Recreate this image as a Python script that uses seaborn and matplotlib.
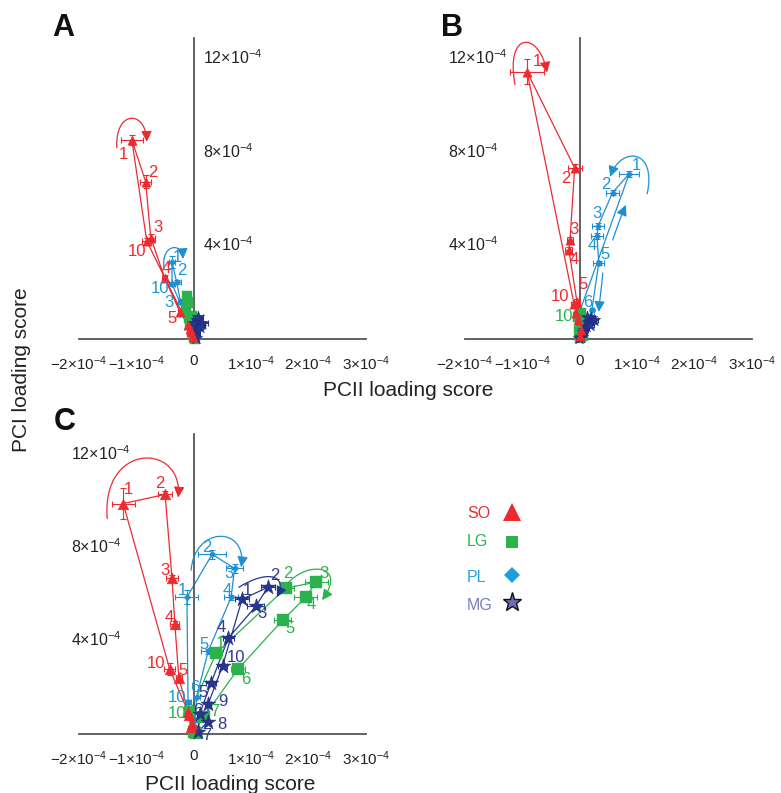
import matplotlib
matplotlib.use("Agg")
import matplotlib.pyplot as plt
import seaborn as sns
from matplotlib.path import Path
from matplotlib.patches import FancyArrowPatch

sns.set_theme(style="white")
plt.rcParams["font.family"] = ["Liberation Sans", "DejaVu Sans"]
plt.rcParams["mathtext.fontset"] = "custom"
plt.rcParams["mathtext.rm"] = "Liberation Sans"
plt.rcParams["mathtext.it"] = "Liberation Sans:italic"
plt.rcParams["mathtext.bf"] = "Liberation Sans:bold"

# Loading scores in units of 1e-4; each series holds time points 1..10
time_points = list(range(1, 11))
groups = ["SO", "LG", "PL", "MG"]

# ---- panel A ----
A_SO_x = [-1.08, -0.84, -0.75, -0.51, -0.24, -0.10, -0.05, -0.02, -0.07, -0.82]
A_SO_y = [8.54, 6.75, 4.35, 2.63, 1.15, 0.60, 0.30, 0.10, 0.45, 4.20]
A_SO_xerr = [0.19, 0.10, 0.08, 0.05, 0.04, 0.03, 0.03, 0.03, 0.03, 0.08]
A_SO_yerr = [0.22, 0.27, 0.15, 0.12, 0.08, 0.05, 0.05, 0.05, 0.05, 0.12]

A_LG_x = [-0.12, -0.10, -0.13, -0.09, -0.07, -0.04, 0.00, 0.02, -0.03, -0.10]
A_LG_y = [1.85, 1.55, 1.20, 0.90, 0.60, 0.35, 0.10, 0.02, 1.00, 1.60]
A_LG_xerr = [0.04] * 10
A_LG_yerr = [0.08] * 10

A_PL_x = [-0.38, -0.30, -0.23, -0.15, -0.08, -0.04, 0.00, 0.01, -0.02, -0.38]
A_PL_y = [3.30, 2.45, 1.60, 1.15, 0.75, 0.45, 0.20, 0.10, 0.30, 2.36]
A_PL_xerr = [0.06, 0.08, 0.05, 0.04, 0.03, 0.03, 0.03, 0.03, 0.03, 0.06]
A_PL_yerr = [0.25, 0.10, 0.10, 0.08, 0.05, 0.05, 0.05, 0.05, 0.05, 0.10]

A_MG_x = [0.05, 0.12, 0.08, 0.02, 0.15, 0.06, 0.00, 0.03, 0.10, -0.02]
A_MG_y = [0.80, 0.65, 0.95, 0.55, 0.70, 0.35, 0.15, 0.05, 0.50, 0.70]
A_MG_xerr = [0.10, 0.08, 0.08, 0.06, 0.10, 0.05, 0.05, 0.05, 0.05, 0.06]
A_MG_yerr = [0.08] * 10

# ---- panel B ----
B_SO_x = [-0.92, -0.09, -0.17, -0.19, -0.05, -0.03, 0.02, 0.00, -0.06, -0.10]
B_SO_y = [11.46, 7.33, 4.25, 3.82, 1.60, 0.80, 0.40, 0.15, 1.10, 1.50]
B_SO_xerr = [0.29, 0.12, 0.06, 0.06, 0.05, 0.04, 0.03, 0.03, 0.04, 0.06]
B_SO_yerr = [0.55, 0.15, 0.12, 0.12, 0.10, 0.05, 0.05, 0.05, 0.05, 0.10]

B_LG_x = [0.02, 0.04, 0.00, 0.03, 0.05, 0.01, -0.02, 0.00, 0.02, -0.03]
B_LG_y = [0.70, 0.40, 0.25, 0.55, 0.15, 0.05, 0.35, 0.80, 1.10, 0.95]
B_LG_xerr = [0.03] * 10
B_LG_yerr = [0.06] * 10

B_PL_x = [0.86, 0.57, 0.32, 0.30, 0.33, 0.21, 0.08, 0.00, -0.03, 0.00]
B_PL_y = [7.08, 6.27, 4.85, 4.42, 3.26, 1.24, 0.50, 0.10, 0.50, 1.20]
B_PL_xerr = [0.17, 0.12, 0.11, 0.10, 0.10, 0.04, 0.03, 0.03, 0.03, 0.03]
B_PL_yerr = [0.12, 0.10, 0.12, 0.12, 0.10, 0.05, 0.05, 0.05, 0.05, 0.05]

B_MG_x = [0.15, 0.20, 0.10, 0.12, 0.25, 0.08, 0.02, -0.02, 0.05, 0.18]
B_MG_y = [0.75, 0.90, 0.55, 0.95, 0.80, 0.40, 0.10, 0.05, 0.30, 0.60]
B_MG_xerr = [0.06] * 10
B_MG_yerr = [0.08] * 10

# ---- panel C ----
C_SO_x = [-1.23, -0.50, -0.38, -0.33, -0.26, -0.08, -0.03, -0.05, -0.10, -0.42]
C_SO_y = [9.91, 10.30, 6.70, 4.72, 2.40, 0.80, 0.45, 0.30, 0.95, 2.79]
C_SO_xerr = [0.20, 0.12, 0.10, 0.08, 0.05, 0.03, 0.03, 0.03, 0.03, 0.10]
C_SO_yerr = [0.65, 0.15, 0.15, 0.15, 0.12, 0.05, 0.05, 0.05, 0.05, 0.25]

C_LG_x = [0.39, 1.60, 2.13, 1.95, 1.55, 0.77, 0.17, 0.00, 0.03, -0.07]
C_LG_y = [3.47, 6.27, 6.53, 5.88, 4.90, 2.79, 0.73, 0.10, 0.05, 0.94]
C_LG_xerr = [0.10, 0.15, 0.20, 0.20, 0.15, 0.12, 0.05, 0.03, 0.03, 0.05]
C_LG_yerr = [0.10, 0.10, 0.10, 0.12, 0.10, 0.10, 0.05, 0.05, 0.05, 0.05]

C_PL_x = [-0.12, 0.32, 0.71, 0.65, 0.25, 0.05, 0.02, 0.00, -0.03, -0.10]
C_PL_y = [5.88, 7.73, 7.12, 5.88, 3.56, 1.60, 0.60, 0.30, 0.90, 1.37]
C_PL_xerr = [0.20, 0.24, 0.15, 0.12, 0.12, 0.05, 0.03, 0.03, 0.03, 0.05]
C_PL_yerr = [0.30, 0.20, 0.20, 0.10, 0.10, 0.05, 0.05, 0.05, 0.05, 0.08]

C_MG_x = [0.84, 1.29, 1.08, 0.60, 0.30, 0.10, 0.08, 0.24, 0.25, 0.50]
C_MG_y = [5.79, 6.31, 5.49, 4.12, 2.19, 0.85, 0.10, 0.52, 1.29, 2.92]
C_MG_xerr = [0.12, 0.12, 0.15, 0.10, 0.08, 0.05, 0.05, 0.05, 0.05, 0.08]
C_MG_yerr = [0.10, 0.10, 0.10, 0.10, 0.08, 0.05, 0.05, 0.05, 0.05, 0.08]

# Axis tick values (units of 1e-4)
x_tick_values = [-2, -1, 0, 1, 2, 3]
y_tick_values = [2, 4, 6, 8, 10, 12]
y_labelled_values = [4, 8, 12]

panels = {
    "A": {g: (globals()[f"A_{g}_x"], globals()[f"A_{g}_y"],
              globals()[f"A_{g}_xerr"], globals()[f"A_{g}_yerr"]) for g in groups},
    "B": {g: (globals()[f"B_{g}_x"], globals()[f"B_{g}_y"],
              globals()[f"B_{g}_xerr"], globals()[f"B_{g}_yerr"]) for g in groups},
    "C": {g: (globals()[f"C_{g}_x"], globals()[f"C_{g}_y"],
              globals()[f"C_{g}_xerr"], globals()[f"C_{g}_yerr"]) for g in groups},
}

# ---- styling / layout ----
COLORS = {"SO": "#ed2a30", "LG": "#2bb24c", "PL": "#1d8fd2", "MG": "#27358f"}
LABEL_COLORS = {"SO": "#ed2a30", "LG": "#2bb24c", "PL": "#2196d6", "MG": "#2e3b92"}
MARKERS = {"SO": "^", "LG": "s", "PL": "D", "MG": "*"}
SIZES = {"A": {"SO": 45, "LG": 50, "PL": 12, "MG": 90},
         "B": {"SO": 45, "LG": 55, "PL": 12, "MG": 90},
         "C": {"SO": 60, "LG": 80, "PL": 12, "MG": 130}}
DRAW_ORDER = ["PL", "LG", "MG", "SO"]

W, H = 781, 793
AX_PIX = {"A": (79, 366, 339, 38), "B": (465, 752, 339, 38), "C": (79, 366, 734, 434)}
Y_TOP = 12.9

# number-label offsets in pixels (right, down) from each point
LABEL_OFFSETS = {
    ("A", "SO"): {1: (-8, 15), 2: (7, -9), 3: (7, -10), 4: (2, -9), 5: (-8, 6), 10: (-10, 11)},
    ("A", "PL"): {1: (5, -5), 2: (5, -11), 3: (-12, 1), 10: (-12, 5)},
    ("B", "SO"): {1: (10, -10), 2: (-9, 11), 3: (4, -10), 4: (5, 10), 5: (6, -17), 10: (-14, -8)},
    ("B", "PL"): {1: (7, -8), 2: (-7, -8), 3: (-1, -12), 4: (-5, 10), 5: (6, -8), 6: (-4, -8)},
    ("B", "LG"): {10: (-14, 0)},
    ("C", "SO"): {1: (5, -14), 2: (-5, -11), 3: (-7, -8), 4: (-6, -7), 5: (4, -8), 10: (-14, -6)},
    ("C", "PL"): {1: (-5, -7), 2: (-5, -7), 3: (-6, 5), 4: (-4, -7), 5: (-4, -7), 6: (-2, -9), 10: (-11, -5)},
    ("C", "LG"): {1: (4, -10), 2: (2, -15), 3: (8, -9), 4: (6, 7), 5: (7, 8), 6: (8, 10), 7: (11, -6), 10: (-13, 1)},
    ("C", "MG"): {1: (5, -9), 2: (7, -12), 3: (6, 7), 4: (-7, -11), 5: (-8, 9), 6: (-2, -4),
                  7: (8, 4), 8: (14, 3), 9: (15, -2), 10: (13, -9)},
}

# direction arrows: (panel, group, anchor time point, bezier control offsets in pixels)
ARROWS = [
    ("A", "SO", 1, [(-15, 8), (-17, -30), (14, -30), (15, 2)]),
    ("A", "PL", 1, [(-8, 6), (-11, -18), (10, -20), (11, -3)]),
    ("B", "SO", 1, [(-12, 13), (-22, -41), (12, -41), (20, 1)]),
    ("B", "PL", 1, [(18, 20), (28, -25), (-8, -28), (-19, 3)]),
    ("B", "PL", 5, [(14, -23), (18, -35), (22, -46), (27, -58)]),
    ("B", "PL", 5, [(4, 10), (3, 23), (1, 36), (0, 49)]),
    ("C", "SO", 1, [(-16, 15), (-22, -62), (60, -61), (55, -6)]),
    ("C", "PL", 2, [(-21, 16), (-18, -28), (35, -29), (29, 13)]),
    ("C", "LG", 3, [(-30, 3), (-10, -22), (32, -18), (6, 18)]),
    ("C", "MG", 2, [(-29, 0), (0, -18), (20, -12), (9, 10)]),
]

AXIS_GRAY = "#555555"
TICK_FS = 11


def sci(v):
    if v == 0:
        return "0"
    s = "\u2212" if v < 0 else ""
    return f"{s}{abs(v)}\u00d710$^{{\u22124}}$"


fig = plt.figure(figsize=(W / 100, H / 100), dpi=100)
axes = {}
for key, (xl, xr, yb, yt) in AX_PIX.items():
    ax = fig.add_axes([xl / W, 1 - yb / H, (xr - xl) / W, (yb - yt) / H])
    ax.set_xlim(-2, 3)
    ax.set_ylim(0, Y_TOP)
    ax.patch.set_alpha(0)
    for side in ("top", "right"):
        ax.spines[side].set_visible(False)
    ax.spines["left"].set_position(("data", 0))
    for side in ("left", "bottom"):
        ax.spines[side].set_color(AXIS_GRAY)
        ax.spines[side].set_linewidth(1.3)
    ax.set_xticks(x_tick_values)
    ax.set_xticklabels([sci(v) for v in x_tick_values])
    ax.set_yticks(y_tick_values)
    ax.set_yticklabels([])
    ax.tick_params(axis="both", direction="out", length=7, width=1.3,
                   color=AXIS_GRAY, labelsize=TICK_FS, labelcolor="#222222", pad=4)
    ax.xaxis.get_major_ticks()[2].tick1line.set_visible(False)
    ax.set_xlabel("")
    ax.set_ylabel("")
    axes[key] = ax

# y tick labels beside the vertical axis
YLAB_X = {"A": (203, "left"), "B": (448, "left"), "C": (71, "left")}
for key, ax in axes.items():
    xl, xr, yb, yt = AX_PIX[key]
    px, ha = YLAB_X[key]
    for v in y_labelled_values:
        py = yb - (yb - yt) * v / Y_TOP
        fig.text(px / W, 1 - (py - 1) / H, sci(v), ha=ha, va="center",
                 fontsize=TICK_FS + 0.5, color="#222222")


def px_to_data(ax, anchor, off):
    disp = ax.transData.transform(anchor)
    return ax.transData.inverted().transform((disp[0] + off[0], disp[1] - off[1]))


for key, ax in axes.items():
    for g in DRAW_ORDER:
        xs, ys, xe, ye = panels[key][g]
        loop_x = list(xs) + [xs[0]]
        loop_y = list(ys) + [ys[0]]
        sns.lineplot(x=loop_x, y=loop_y, sort=False, estimator=None, color=COLORS[g],
                     lw=0.9, ax=ax, legend=False, zorder=2)
        ax.errorbar(xs, ys, xerr=xe, yerr=ye, fmt="none", ecolor=COLORS[g],
                    elinewidth=0.8, capsize=2, capthick=0.8, zorder=3, clip_on=False)
        sns.scatterplot(x=xs, y=ys, marker=MARKERS[g], s=SIZES[key][g], color=COLORS[g],
                        edgecolor=COLORS[g] if g != "MG" else "#1b2570", linewidth=0.3,
                        ax=ax, legend=False, zorder=4, clip_on=False)
        for t, (dx, dy) in LABEL_OFFSETS.get((key, g), {}).items():
            i = time_points.index(t)
            ax.annotate(str(t), xy=(xs[i], ys[i]), xytext=(dx, -dy),
                        textcoords="offset pixels", ha="center", va="center",
                        fontsize=12, color=LABEL_COLORS[g], zorder=5)

for key, g, t, offs in ARROWS:
    ax = axes[key]
    xs, ys, _, _ = panels[key][g]
    i = time_points.index(t)
    verts = [px_to_data(ax, (xs[i], ys[i]), o) for o in offs]
    path = Path(verts, [Path.MOVETO, Path.CURVE4, Path.CURVE4, Path.CURVE4])
    arr = FancyArrowPatch(path=path, arrowstyle="-|>,head_length=0.7,head_width=0.35",
                          mutation_scale=9, color=COLORS[g], lw=0.9, zorder=5,
                          clip_on=False)
    ax.add_patch(arr)

# panel letters and axis titles
for letter, (px, py) in {"A": (63, 28), "B": (452, 28), "C": (65, 422)}.items():
    fig.text(px / W, 1 - py / H, letter, fontsize=22, fontweight="bold",
             ha="center", va="center", color="#111111")
fig.text(408 / W, 1 - 390 / H, "PCII loading score", fontsize=15, ha="center",
         va="center", color="#222222")
fig.text(230 / W, 1 - 784 / H, "PCII loading score", fontsize=15, ha="center",
         va="center", color="#222222")
fig.text(22 / W, 1 - 370 / H, "PCI loading score", fontsize=15, ha="center",
         va="center", rotation=90, color="#222222")

# group key
leg = fig.add_axes([0, 0, 1, 1])
leg.set_xlim(0, W)
leg.set_ylim(H, 0)
leg.axis("off")
leg.patch.set_alpha(0)
LEGEND_TEXT = {"SO": "#ed2a30", "LG": "#2bb24c", "PL": "#29a3dc", "MG": "#7b7fc0"}
LEGEND_FACE = {"SO": "#ed2a30", "LG": "#2bb24c", "PL": "#1ea0dc", "MG": "#6b6fb5"}
LEGEND_MS = {"SO": 13, "LG": 9, "PL": 8, "MG": 14}
for j, g in enumerate(groups):
    ty = [513, 542, 577, 606][j]
    my = [512, 542, 575, 602][j]
    leg.text(467, ty, g, color=LEGEND_TEXT[g], fontsize=11.5, ha="left", va="center")
    leg.plot([512], [my], marker=MARKERS[g], ms=LEGEND_MS[g], color=LEGEND_FACE[g],
             mec="#111111" if g == "MG" else LEGEND_FACE[g], mew=1.0 if g == "MG" else 0,
             ls="none")

fig.savefig("out.png", dpi=100)
